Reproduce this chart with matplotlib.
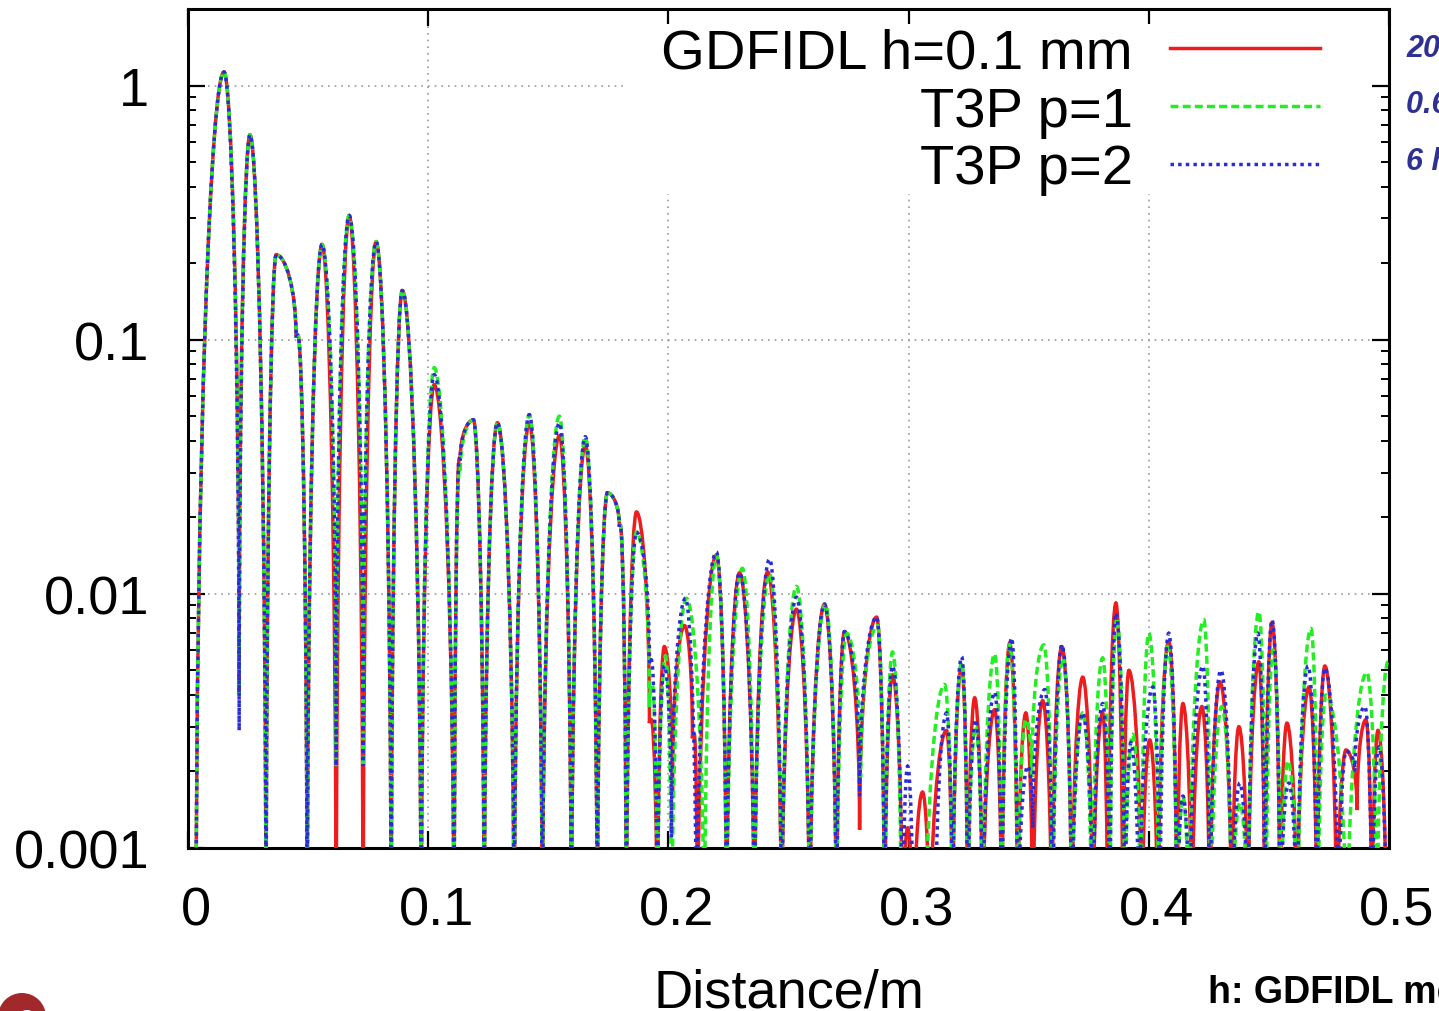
import matplotlib
matplotlib.use("Agg")
import matplotlib.pyplot as plt
from matplotlib.path import Path
from matplotlib.patches import PathPatch, Rectangle, Ellipse
from matplotlib.lines import Line2D
from matplotlib.transforms import ScaledTranslation
from matplotlib.ticker import LogLocator, NullFormatter, FixedLocator, FixedFormatter

plt.rcParams['font.family'] = ['Liberation Sans', 'DejaVu Sans']

# ---------------- data ----------------
F = 3e-4  # null of a lobe: falls below the 0.001 floor of the axis

labels = ["GDFIDL h=0.1 mm", "T3P p=1", "T3P p=2"]
x_ticks = [0, 0.1, 0.2, 0.3, 0.4, 0.5]
x_ticklabels = ["0", "0.1", "0.2", "0.3", "0.4", "0.5"]
y_ticks = [0.001, 0.01, 0.1, 1]
y_ticklabels = ["0.001", "0.01", "0.1", "1"]
side_notes = ["20 min", "0.6 hrs", "6 hrs"]

# local maxima / minima (x in m, value) of each curve
red_points = [
    (0.0033, F), (0.0150, 1.13), (0.0213, 0.0040), (0.0258, 0.64), (0.0325, F),
    (0.0367, 0.216), (0.0450, 0.102), (0.0458, 0.104), (0.0496, F),
    (0.0558, 0.237), (0.0617, F), (0.0671, 0.308), (0.0729, F), (0.0783, 0.243), (0.0846, F),
    (0.0892, 0.156), (0.0971, F), (0.1025, 0.0665), (0.1108, F),
    (0.1129, 0.034), (0.1133, 0.0335), (0.1188, 0.0484), (0.1233, F), (0.1288, 0.0471), (0.1358, F),
    (0.1421, 0.047), (0.1475, F), (0.1546, 0.0419), (0.1596, F), (0.1654, 0.0386), (0.1704, F),
    (0.1746, 0.025), (0.1796, 0.0184), (0.1800, 0.0186), (0.1825, F), (0.1867, 0.021),
    (0.1921, 0.0031), (0.1929, 0.0032), (0.1954, F), (0.1983, 0.0062), (0.2017, 0.0016),
    (0.2067, 0.0075), (0.2100, 0.0027), (0.2108, 0.0028), (0.2121, F), (0.2200, 0.0142), (0.2242, F),
    (0.2296, 0.0121), (0.2358, F), (0.2413, 0.0122), (0.2471, F), (0.2533, 0.0087), (0.2588, F),
    (0.2650, 0.0091), (0.2700, F), (0.2733, 0.0071), (0.2796, 0.00118), (0.2867, 0.0081), (0.2900, F),
    (0.2933, 0.0048), (0.2975, F), (0.2996, 0.0012), (0.3020, F), (0.3058, 0.00166), (0.3088, F),
    (0.3158, 0.0029), (0.3183, F), (0.3221, 0.00525), (0.3246, F), (0.3275, 0.0039), (0.3308, F),
    (0.3358, 0.0035), (0.3388, F), (0.3421, 0.0064), (0.3454, F), (0.3488, 0.0034), (0.3517, F),
    (0.3558, 0.0038), (0.3596, F), (0.3638, 0.0062), (0.3679, F), (0.3725, 0.0047), (0.3767, F),
    (0.3808, 0.0034), (0.3829, F), (0.3863, 0.0092), (0.3892, F), (0.3917, 0.0050), (0.3971, F),
    (0.4004, 0.00266), (0.4038, F), (0.4083, 0.0065), (0.4117, F), (0.4142, 0.0037), (0.4179, F),
    (0.4221, 0.0036), (0.4254, F), (0.4296, 0.0045), (0.4346, F), (0.4375, 0.0030), (0.4413, F),
    (0.4458, 0.0054), (0.4483, F), (0.4513, 0.0077), (0.4546, F), (0.4575, 0.0031), (0.4617, F),
    (0.4667, 0.0043), (0.4700, F), (0.4733, 0.0052), (0.4783, F), (0.4821, 0.00243), (0.4867, 0.00141),
    (0.4904, 0.0032), (0.4929, F), (0.4954, 0.0029), (0.4990, F),
]

green_points = [
    (0.0033, F), (0.0150, 1.13), (0.0213, 0.0040), (0.0258, 0.64), (0.0325, F),
    (0.0367, 0.216), (0.0450, 0.102), (0.0458, 0.104), (0.0496, F),
    (0.0558, 0.237), (0.0617, 0.0021), (0.0671, 0.308), (0.0729, 0.0021), (0.0783, 0.243), (0.0846, F),
    (0.0892, 0.156), (0.0971, F), (0.1025, 0.0776), (0.1108, F),
    (0.1129, 0.030), (0.1133, 0.0296), (0.1188, 0.0484), (0.1233, F), (0.1288, 0.0471), (0.1358, F),
    (0.1421, 0.0507), (0.1475, F), (0.1546, 0.050), (0.1596, F), (0.1654, 0.0415), (0.1704, F),
    (0.1746, 0.025), (0.1796, 0.0184), (0.1800, 0.0186), (0.1825, F), (0.1867, 0.0175),
    (0.1921, 0.0036), (0.1933, 0.0044), (0.1954, F), (0.1988, 0.0057), (0.2013, F),
    (0.2075, 0.0096), (0.2150, F), (0.2200, 0.0142), (0.2242, F), (0.2308, 0.0126), (0.2358, F),
    (0.2421, 0.0120), (0.2471, F), (0.2533, 0.0107), (0.2588, F), (0.2654, 0.0091), (0.2700, F),
    (0.2742, 0.0070), (0.2800, 0.0019), (0.2871, 0.0075), (0.2900, F), (0.2933, 0.0059), (0.2970, F),
    (0.3070, F), (0.3150, 0.0044), (0.3183, F), (0.3221, 0.0054), (0.3246, F), (0.3279, 0.0030),
    (0.3308, F), (0.3358, 0.0058), (0.3388, F), (0.3421, 0.0063), (0.3454, F), (0.3488, 0.0032),
    (0.3513, 0.0019), (0.3563, 0.0063), (0.3600, F), (0.3642, 0.0056), (0.3679, F), (0.3725, 0.0034),
    (0.3763, F), (0.3808, 0.0056), (0.3838, F), (0.3867, 0.0080), (0.3900, F), (0.3933, 0.0028),
    (0.3967, F), (0.4000, 0.0070), (0.4042, F), (0.4079, 0.0062), (0.4117, F), (0.4142, 0.0016),
    (0.4167, F), (0.4229, 0.0079), (0.4258, F), (0.4304, 0.0036), (0.4346, F), (0.4379, 0.0015),
    (0.4413, F), (0.4458, 0.0085), (0.4488, F), (0.4517, 0.0060), (0.4550, F), (0.4579, 0.0022),
    (0.4620, F), (0.4675, 0.0073), (0.4704, F), (0.4738, 0.0040), (0.4825, F), (0.4908, 0.0049),
    (0.4950, F), (0.4996, 0.0054),
]

blue_points = [
    (0.0033, F), (0.0150, 1.13), (0.0213, 0.0029), (0.0258, 0.64), (0.0325, F),
    (0.0367, 0.216), (0.0450, 0.102), (0.0458, 0.104), (0.0496, F),
    (0.0558, 0.237), (0.0617, 0.0021), (0.0671, 0.308), (0.0729, 0.0021), (0.0783, 0.243), (0.0846, F),
    (0.0892, 0.156), (0.0971, F), (0.1025, 0.0728), (0.1108, F),
    (0.1129, 0.034), (0.1133, 0.0335), (0.1188, 0.0484), (0.1233, F), (0.1288, 0.0471), (0.1358, F),
    (0.1421, 0.0507), (0.1475, F), (0.1546, 0.047), (0.1596, F), (0.1654, 0.0415), (0.1704, F),
    (0.1746, 0.025), (0.1796, 0.0184), (0.1800, 0.0186), (0.1825, F), (0.1867, 0.0175),
    (0.1921, 0.0053), (0.1929, 0.0055), (0.1954, F), (0.1983, 0.0052), (0.2013, 0.0011),
    (0.2071, 0.0096), (0.2117, F), (0.2200, 0.0146), (0.2242, F), (0.2296, 0.0121), (0.2358, F),
    (0.2421, 0.0137), (0.2471, F), (0.2533, 0.0097), (0.2588, F), (0.2650, 0.0091), (0.2700, F),
    (0.2733, 0.0071), (0.2796, 0.0016), (0.2867, 0.0081), (0.2900, F), (0.2933, 0.0052), (0.2975, F),
    (0.2996, 0.0021), (0.3020, F), (0.3110, F), (0.3158, 0.0034), (0.3183, F), (0.3221, 0.00565),
    (0.3246, F), (0.3279, 0.0032), (0.3308, F), (0.3358, 0.0041), (0.3388, F), (0.3429, 0.0067),
    (0.3454, F), (0.3496, 0.0021), (0.3517, 0.0012), (0.3567, 0.0042), (0.3600, F), (0.3638, 0.0063),
    (0.3679, F), (0.3725, 0.0034), (0.3767, F), (0.3808, 0.0037), (0.3838, F), (0.3863, 0.0084),
    (0.3900, F), (0.3925, 0.0026), (0.3960, F), (0.4017, 0.0043), (0.4046, F), (0.4083, 0.0070),
    (0.4117, F), (0.4142, 0.0016), (0.4170, F), (0.4225, 0.0052), (0.4254, F), (0.4300, 0.0050),
    (0.4346, F), (0.4379, 0.0018), (0.4413, F), (0.4454, 0.0070), (0.4483, F), (0.4513, 0.0079),
    (0.4546, F), (0.4583, 0.0018), (0.4617, F), (0.4663, 0.0052), (0.4700, F), (0.4733, 0.0051),
    (0.4790, F), (0.4821, 0.0024), (0.4858, 0.0020), (0.4900, 0.0036), (0.4929, F), (0.4958, 0.0025),
    (0.4990, F),
]

series = [red_points, green_points, blue_points]
colors = ["#ee1c1c", "#22ee22", "#2a2ad8"]
styles = ["-", (0, (2.3, 1.2)), (0, (1.0, 1.2))]


def extrema_path(points, k=0.45, h=0.6):
    """Smooth arches between successive extrema (horizontal tangent at maxima,
    vertical tangent at minima); drawn by matplotlib in display (log) space."""
    verts = [points[0]]
    codes = [Path.MOVETO]
    for (x0, y0), (x1, y1) in zip(points[:-1], points[1:]):
        if y0 == y1:
            verts.append((x1, y1))
            codes.append(Path.LINETO)
            continue
        if y0 > y1:
            c1 = (x0 + k * (x1 - x0), y0)
            c2 = (x1, y1 * (y0 / y1) ** h)
        else:
            c1 = (x0, y0 * (y1 / y0) ** h)
            c2 = (x1 - k * (x1 - x0), y1)
        verts += [c1, c2, (x1, y1)]
        codes += [Path.CURVE4] * 3
    return Path(verts, codes)


W, H = 1439, 1012
fig = plt.figure(figsize=(W / 100, H / 100), dpi=100)
ax = fig.add_axes([188 / W, (H - 849) / H, 1201 / W, 839 / H])
ax.set_yscale("log")
ax.set_xlim(0, 0.5)
ax.set_ylim(0.001, 2.0)

for pts, c, ls in zip(series, colors, styles):
    ax.add_patch(PathPatch(extrema_path(pts), fill=False, edgecolor=c,
                           linewidth=2.5, linestyle=ls, zorder=3))

ax.xaxis.set_major_locator(FixedLocator(x_ticks))
ax.xaxis.set_major_formatter(FixedFormatter(x_ticklabels))
ax.yaxis.set_major_locator(FixedLocator(y_ticks))
ax.yaxis.set_major_formatter(FixedFormatter(y_ticklabels))
ax.yaxis.set_minor_locator(LogLocator(base=10, subs=range(2, 10)))
ax.yaxis.set_minor_formatter(NullFormatter())

ax.tick_params(which="both", direction="in", top=True, right=True, labelsize=39)
ax.tick_params(which="major", length=12, width=1.6)
ax.tick_params(which="minor", length=6, width=1.4)
ax.tick_params(axis="y", pad=28)
ax.tick_params(axis="x", pad=27)
for s in ax.spines.values():
    s.set_linewidth(2.2)

# x tick labels sit slightly right of their ticks in the reference
shift = ScaledTranslation(8 / 100, 0, fig.dpi_scale_trans)
for lab in ax.get_xticklabels():
    lab.set_transform(lab.get_transform() + shift)

ax.grid(True, which="major", linestyle=(0, (1, 3)), color="#999999", linewidth=1.2)

# white box behind the legend hiding the grid there
ax.add_patch(Rectangle(((625 - 188) / 1201, (849 - 195) / 839),
                       (1370 - 625) / 1201, (195 - 25) / 839,
                       transform=ax.transAxes, facecolor="white",
                       edgecolor="none", zorder=2.6))

handles = [Line2D([], [], color=c, lw=2.5, ls=ls) for c, ls in zip(colors, styles)]
leg = ax.legend(handles, labels, loc="upper right",
                bbox_to_anchor=(1320 / W, 1 - 29 / H), bbox_transform=fig.transFigure,
                frameon=False, fontsize=40.5, markerfirst=False,
                handlelength=2.66, handletextpad=0.67, labelspacing=0.1,
                borderpad=0, borderaxespad=0)
leg.set_zorder(5)

ax.set_xlabel("Distance/m", fontsize=39)
ax.xaxis.set_label_coords(0.5, (849 - 1008) / 839)
ax.xaxis.label.set_verticalalignment("baseline")

for txt, yb in zip(side_notes, [57, 113, 170]):
    fig.text(1406 / W, 1 - yb / H, txt, color="#2e3192", fontsize=22,
             fontweight="bold", fontstyle="italic", va="baseline", ha="left")

fig.text(1208 / W, 1 - 1003 / H, "h: GDFIDL mesh size", fontsize=27,
         fontweight="bold", color="black", va="baseline", ha="left")

fig.patches.append(Ellipse((22 / W, 1 - 1018 / H), 48 / W, 48 / H,
                           transform=fig.transFigure, facecolor="#a3282c",
                           edgecolor="none"))
fig.patches.append(Ellipse((27 / W, 1 - 1021 / H), 20 / W, 20 / H,
                           transform=fig.transFigure, facecolor="white",
                           edgecolor="none"))

fig.savefig("out.png", dpi=100)
